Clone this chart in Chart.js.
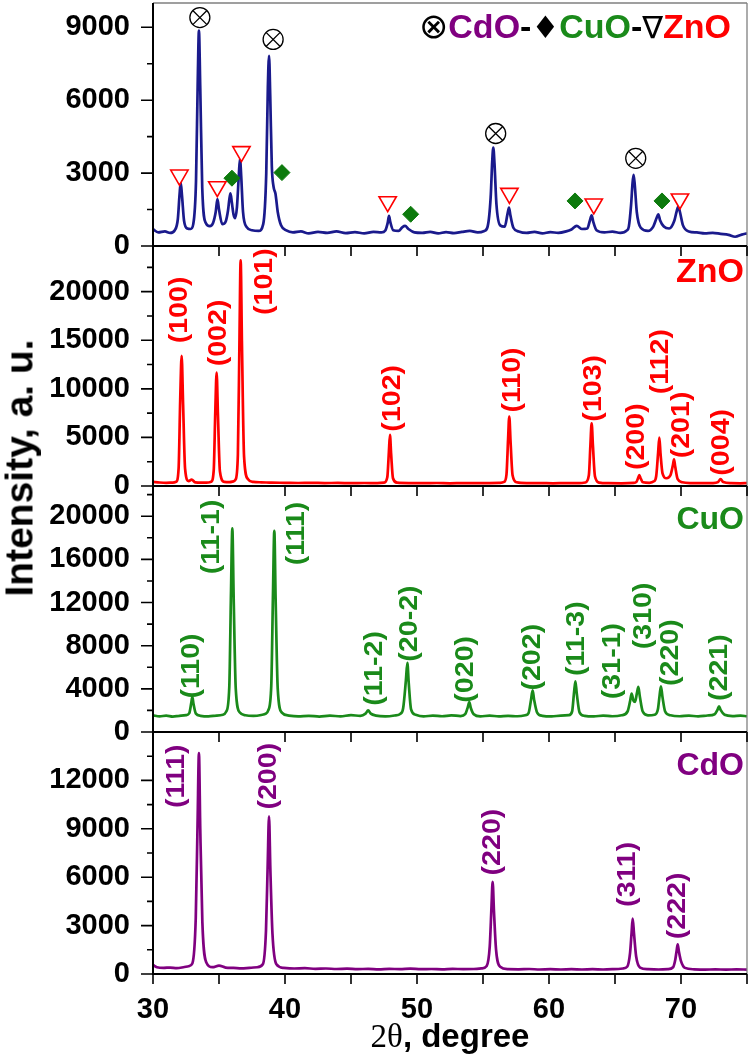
<!DOCTYPE html>
<html>
<head>
<meta charset="utf-8">
<title>XRD patterns</title>
<script src="https://cdn.jsdelivr.net/npm/chart.js@4.4.1/dist/chart.umd.min.js"></script>
<style>
  body { margin: 0; background: #fff; }
  #wrap { position: relative; width: 750px; height: 1063px; overflow: hidden; background: #fff; }
  #wrap canvas { position: absolute; left: 0; }
  #yTitle {
    position: absolute; left: 18.5px; top: 468px;
    transform: translate(-50%, -50%) rotate(-90deg);
    font: bold 39px "Liberation Sans", Arial, sans-serif;
    line-height: 1; white-space: nowrap; color: #000;
  }
</style>
</head>
<body>
<div id="wrap">
  <canvas id="mixChart" width="750" height="262" style="top:0px"></canvas>
  <canvas id="znoChart" width="750" height="268" style="top:232px"></canvas>
  <canvas id="cuoChart" width="750" height="274" style="top:472px"></canvas>
  <canvas id="cdoChart" width="750" height="345" style="top:718px"></canvas>
  <div id="yTitle">Intensity, a. u.</div>
</div>
<script>
// ---- data: [2theta, intensity] ----
const mixScan = [[30.0,690],[30.4,560],[30.9,600],[31.3,540],[31.65,650],[31.88,1100],[32.01,2100],[32.1,2610],[32.2,2050],[32.35,1050],[32.6,720],[32.85,700],[33.05,900],[33.26,2700],[33.39,6800],[33.48,8860],[33.58,6500],[33.73,2400],[34.0,950],[34.3,820],[34.55,950],[34.75,1400],[34.88,1925],[35.0,1500],[35.25,900],[35.5,1000],[35.68,1450],[35.79,1950],[35.87,2170],[35.97,1800],[36.1,1300],[36.22,1150],[36.36,1600],[36.5,2900],[36.59,3600],[36.68,2900],[36.82,1400],[37.1,780],[37.5,650],[38.0,620],[38.35,900],[38.58,3000],[38.7,6500],[38.79,7830],[38.88,6200],[39.0,3300],[39.13,2450],[39.28,2150],[39.45,1400],[39.7,850],[40.1,640],[40.6,560],[41.2,600],[41.8,520],[42.5,580],[43.2,540],[43.9,600],[44.6,530],[45.3,570],[46.0,520],[46.7,580],[47.3,560],[47.6,640],[47.78,950],[47.88,1236],[47.98,980],[48.2,650],[48.6,620],[48.9,780],[49.1,825],[49.35,700],[49.8,560],[50.4,540],[51.0,580],[51.6,520],[52.2,570],[52.8,530],[53.4,580],[54.0,620],[54.6,560],[55.1,620],[55.35,800],[55.58,2000],[55.7,3500],[55.78,4050],[55.87,3400],[56.02,1700],[56.3,850],[56.65,800],[56.85,1300],[56.97,1580],[57.08,1250],[57.3,750],[57.7,600],[58.3,540],[58.9,580],[59.5,520],[60.1,570],[60.7,540],[61.3,600],[61.7,680],[62.1,825],[62.5,700],[62.9,720],[63.1,1050],[63.23,1265],[63.35,1000],[63.6,650],[64.2,560],[64.8,590],[65.4,540],[65.9,640],[66.05,800],[66.22,1700],[66.33,2600],[66.41,2925],[66.5,2500],[66.65,1400],[66.95,750],[67.5,620],[67.9,800],[68.15,1150],[68.28,1306],[68.42,1050],[68.7,800],[69.1,720],[69.5,1050],[69.68,1450],[69.8,1623],[69.92,1400],[70.15,850],[70.6,600],[71.2,560],[71.8,520],[72.4,540],[73.0,500],[73.6,460],[74.1,380],[74.6,470],[75.0,520]];

const znoScan = [[30.0,420],[30.5,360],[31.0,330],[31.5,350],[31.75,430],[31.94,1800],[32.06,8800],[32.17,13400],[32.28,8400],[32.43,1800],[32.7,500],[32.93,650],[33.2,380],[33.7,340],[34.2,360],[34.4,430],[34.6,1600],[34.72,7700],[34.82,11680],[34.92,7300],[35.07,1500],[35.4,420],[35.8,400],[36.1,480],[36.25,650],[36.43,3200],[36.55,15000],[36.64,23230],[36.74,14500],[36.9,3000],[37.2,700],[37.6,420],[38.2,380],[39.0,340],[40.0,330],[41.0,310],[42.0,330],[43.0,300],[44.0,320],[45.0,290],[46.0,310],[47.0,300],[47.5,340],[47.75,900],[47.87,3500],[47.95,5260],[48.04,3300],[48.18,800],[48.5,340],[49.5,300],[50.5,290],[51.5,310],[52.5,280],[53.5,300],[54.5,290],[55.5,300],[56.3,320],[56.6,420],[56.78,1200],[56.9,4800],[56.99,7150],[57.09,4500],[57.24,1100],[57.55,380],[58.3,290],[59.3,300],[60.3,280],[61.3,300],[62.3,290],[62.75,360],[63.02,1100],[63.14,4300],[63.23,6460],[63.33,4100],[63.48,1000],[63.8,350],[64.5,290],[65.5,280],[66.4,320],[66.62,420],[66.76,850],[66.84,1130],[66.93,820],[67.12,380],[67.6,330],[67.95,480],[68.12,1000],[68.27,3500],[68.36,4980],[68.45,3300],[68.6,1300],[68.9,800],[69.2,1100],[69.38,2100],[69.47,2750],[69.56,2000],[69.75,700],[70.1,380],[70.8,300],[71.6,290],[72.4,300],[72.8,400],[73.0,720],[73.2,400],[73.8,290],[74.5,280],[75.0,300]];

const cuoScan = [[30.0,1550],[30.5,1450],[31.0,1520],[31.5,1430],[32.0,1500],[32.5,1560],[32.75,1750],[32.9,2700],[32.98,3250],[33.07,2600],[33.25,1700],[33.6,1500],[34.2,1450],[34.8,1520],[35.3,1600],[35.55,1900],[35.78,4200],[35.91,13000],[36.01,18870],[36.11,12500],[36.27,4000],[36.58,1800],[37.0,1550],[37.6,1500],[38.2,1580],[38.55,1700],[38.73,2000],[38.96,4300],[39.09,12800],[39.19,18650],[39.29,12300],[39.45,4000],[39.76,1800],[40.3,1520],[41.0,1450],[41.8,1500],[42.6,1430],[43.4,1520],[44.2,1450],[45.0,1560],[45.7,1500],[46.1,1700],[46.3,2000],[46.5,1700],[46.9,1520],[47.6,1450],[48.3,1530],[48.75,1700],[48.95,2200],[49.16,4800],[49.27,6400],[49.37,4600],[49.55,2100],[49.9,1600],[50.5,1450],[51.2,1520],[51.9,1460],[52.6,1540],[53.3,1480],[53.65,1650],[53.85,2300],[53.96,2780],[54.07,2250],[54.3,1650],[54.8,1450],[55.5,1520],[56.2,1440],[56.9,1500],[57.6,1460],[58.2,1550],[58.45,1750],[58.64,3000],[58.76,3870],[58.87,3000],[59.1,1800],[59.5,1500],[60.2,1450],[60.9,1520],[61.5,1560],[61.75,1900],[61.9,3700],[62.0,4700],[62.1,3600],[62.32,1800],[62.7,1500],[63.4,1450],[64.1,1520],[64.8,1460],[65.5,1550],[65.95,1900],[66.15,2900],[66.26,3560],[66.4,2900],[66.52,2800],[66.66,3600],[66.77,4175],[66.88,3300],[67.1,1900],[67.5,1550],[68.0,1600],[68.25,2100],[68.38,3400],[68.48,4240],[68.59,3300],[68.8,1900],[69.2,1550],[69.9,1460],[70.6,1520],[71.3,1450],[72.0,1530],[72.55,1650],[72.78,2100],[72.88,2380],[73.0,2050],[73.3,1600],[73.9,1480],[74.5,1520],[75.0,1460]];

const cdoScan = [[30.0,560],[30.3,420],[30.8,380],[31.3,400],[31.8,370],[32.3,420],[32.7,480],[32.98,650],[33.24,3500],[33.38,9500],[33.48,13690],[33.58,9000],[33.74,3200],[34.05,700],[34.5,420],[35.0,520],[35.5,400],[36.1,380],[36.7,350],[37.3,380],[37.9,420],[38.32,600],[38.56,2700],[38.69,6800],[38.79,9770],[38.89,6500],[39.05,2500],[39.35,600],[39.9,380],[40.7,340],[41.5,360],[42.3,320],[43.1,340],[43.9,310],[44.7,330],[45.5,300],[46.3,320],[47.1,290],[47.9,320],[48.7,300],[49.5,330],[50.3,300],[51.1,310],[51.9,290],[52.7,320],[53.5,300],[54.3,310],[54.9,350],[55.28,500],[55.51,1700],[55.64,4100],[55.73,5710],[55.83,3900],[55.99,1500],[56.3,450],[56.9,300],[57.7,290],[58.5,310],[59.3,280],[60.1,300],[60.9,280],[61.7,300],[62.5,280],[63.3,300],[64.1,280],[64.9,300],[65.6,340],[65.92,450],[66.14,1300],[66.26,2600],[66.34,3440],[66.44,2500],[66.6,1100],[66.9,400],[67.5,300],[68.3,280],[69.0,300],[69.4,420],[69.57,900],[69.67,1450],[69.75,1835],[69.84,1400],[70.0,800],[70.3,380],[71.0,290],[71.8,270],[72.6,290],[73.4,270],[74.2,290],[75.0,270]];

// phase markers on the mixture pattern
const cdoMarkX = [33.55, 39.1, 55.96, 66.57];
const cdoMarkY = [9400, 8500, 4630, 3610];
const cuoMarkX = [35.98, 39.77, 49.52, 61.97, 68.56];
const cuoMarkY = [2790, 3020, 1306, 1855, 1855];
const znoMarkX = [32.0, 34.87, 36.7, 47.78, 57.0, 63.39, 69.92];
const znoMarkY = [2920, 2440, 3885, 1824, 2167, 1730, 1935];

// Miller indices and where they sit (2theta, intensity)
const znoHkl = ['(100)', '(002)', '(101)', '(102)', '(110)', '(103)', '(200)', '(112)', '(201)', '(004)'];
const znoHklX = [32.05, 35.0, 38.48, 48.2, 57.25, 63.36, 66.64, 68.48, 70.1, 73.08];
const znoHklY = [18120, 15750, 21030, 9030, 10910, 10060, 5075, 12800, 6280, 4500];

const cuoHkl = ['(110)', '(11-1)', '(111)', '(11-2)', '(20-2)', '(020)', '(202)', '(11-3)', '(31-1)', '(310)', '(220)', '(221)'];
const cuoHklX = [32.93, 34.45, 40.89, 46.78, 49.47, 53.69, 58.81, 62.1, 64.87, 67.22, 69.24, 72.95];
const cuoHklY = [6120, 18080, 18400, 5900, 10050, 5810, 6930, 8660, 6580, 10760, 7360, 5970];

const cdoHkl = ['(111)', '(200)', '(220)', '(311)', '(222)'];
const cdoHklX = [31.8, 38.81, 55.78, 66.0, 69.75];
const cdoHklY = [12260, 12260, 8180, 6180, 4220];

// axis ticks (all tick marks, and the ones that carry a label)
const twoThetaTicks = [30, 35, 40, 45, 50, 55, 60, 65, 70, 75];
const twoThetaLabels = [30, 40, 50, 60, 70];
const mixTicks = [0, 1500, 3000, 4500, 6000, 7500, 9000];
const mixLabels = [0, 3000, 6000, 9000];
const znoTicks = [0, 2500, 5000, 7500, 10000, 12500, 15000, 17500, 20000, 22500];
const znoLabels = [0, 5000, 10000, 15000, 20000];
const cuoTicks = [0, 2000, 4000, 6000, 8000, 10000, 12000, 14000, 16000, 18000, 20000, 22000];
const cuoLabels = [0, 4000, 8000, 12000, 16000, 20000];
const cdoTicks = [0, 1500, 3000, 4500, 6000, 7500, 9000, 10500, 12000, 13500];
const cdoLabels = [0, 3000, 6000, 9000, 12000];

const legendText = ['\u2297', 'CdO', '-', '\u2666', 'CuO', '-', '\u2207', 'ZnO'];

const FONT = '"Liberation Sans", Arial, sans-serif';
const NAVY = '#1a1a8c';
const RED = '#ff0000';
const GREEN = '#1a8a1a';
const PURPLE = '#800080';

Chart.defaults.font.family = FONT;

function toPoints(scan) {
    return scan.map(p => ({ x: p[0], y: p[1] }));
}

function zipPoints(xs, ys) {
    return xs.map((v, i) => ({ x: v, y: ys[i] }));
}

// frame, ticks, miller labels and panel name
const panelDecor = {
    id: 'panelDecor',
    afterDraw(chart, args, opts) {
        const ctx = chart.ctx;
        const a = chart.chartArea;
        const x = chart.scales.x;
        const y = chart.scales.y;
        ctx.save();

        // miller indices
        if (opts.hkl) {
            ctx.fillStyle = opts.color;
            ctx.font = 'bold 26px ' + FONT;
            ctx.textAlign = 'center';
            ctx.textBaseline = 'middle';
            opts.hkl.forEach((t, i) => {
                ctx.save();
                ctx.translate(x.getPixelForValue(opts.hklX[i]), y.getPixelForValue(opts.hklY[i]));
                ctx.rotate(-Math.PI / 2);
                ctx.scale(1.1, 1);
                ctx.fillText(t, 0, 0);
                ctx.restore();
            });
        }

        // panel name
        if (opts.name) {
            ctx.fillStyle = opts.color;
            ctx.font = 'bold ' + opts.nameSize + 'px ' + FONT;
            ctx.textAlign = 'right';
            ctx.textBaseline = 'alphabetic';
            ctx.fillText(opts.name, a.right - 3, a.top + opts.nameDrop);
        }

        // thin grey frame (right, and top for the first panel)
        ctx.strokeStyle = '#808080';
        ctx.lineWidth = 1.3;
        ctx.beginPath();
        ctx.moveTo(a.right, a.top);
        ctx.lineTo(a.right, a.bottom);
        if (opts.topBorder) {
            ctx.moveTo(a.left, a.top);
            ctx.lineTo(a.right, a.top);
        }
        ctx.stroke();

        // black axes
        ctx.strokeStyle = '#000';
        ctx.lineWidth = 2;
        ctx.beginPath();
        ctx.moveTo(a.left, a.top);
        ctx.lineTo(a.left, a.bottom);
        ctx.lineTo(a.right, a.bottom);
        ctx.stroke();

        // y ticks, the labelled ones are longer
        ctx.lineWidth = 1.6;
        ctx.beginPath();
        y.ticks.forEach(t => {
            const py = y.getPixelForValue(t.value);
            const len = opts.major.includes(t.value) ? 12 : 6;
            ctx.moveTo(a.left - len, py);
            ctx.lineTo(a.left, py);
        });
        // 2theta ticks
        twoThetaTicks.forEach(v => {
            const px = x.getPixelForValue(v);
            if (opts.topTicks) {
                ctx.moveTo(px, a.top);
                ctx.lineTo(px, a.top + 10);
            }
            if (opts.bottomTicks) {
                ctx.moveTo(px, a.bottom);
                ctx.lineTo(px, a.bottom + 10);
            }
        });
        ctx.stroke();
        ctx.restore();
    }
};

// top-right phase key of the mixture panel
const phaseKey = {
    id: 'phaseKey',
    afterDraw(chart) {
        const ctx = chart.ctx;
        const colors = ['#000', PURPLE, '#000', '#000', GREEN, '#000', '#000', RED];
        const fonts = legendText.map(t => {
            if (t === '\u2297') return '35px "DejaVu Sans", sans-serif';
            if (t === '\u2666' || t === '\u2207') return '31px "DejaVu Sans", sans-serif';
            return 'bold 34px ' + FONT;
        });
        ctx.save();
        ctx.textBaseline = 'alphabetic';
        ctx.textAlign = 'left';
        const widths = legendText.map((t, i) => { ctx.font = fonts[i]; return ctx.measureText(t).width; });
        let px = 731 - widths.reduce((s, w) => s + w, 0);
        legendText.forEach((t, i) => {
            ctx.font = fonts[i];
            ctx.fillStyle = colors[i];
            ctx.fillText(t, px, 38);
            px += widths[i];
        });
        ctx.restore();
    }
};

// "2θ, degree" with a serif 2θ
const xTitle = {
    id: 'xTitle',
    afterDraw(chart) {
        const ctx = chart.ctx;
        const a = chart.chartArea;
        const partA = '2\u03b8';
        const partB = ', degree';
        const serif = '33px "Liberation Serif", "Times New Roman", serif';
        const sans = 'bold 33px ' + FONT;
        ctx.save();
        ctx.fillStyle = '#000';
        ctx.textBaseline = 'alphabetic';
        ctx.textAlign = 'left';
        ctx.font = serif;
        const wa = ctx.measureText(partA).width;
        ctx.font = sans;
        const wb = ctx.measureText(partB).width;
        const x0 = (a.left + a.right) / 2 - (wa + wb) / 2;
        ctx.font = serif;
        ctx.fillText(partA, x0, a.bottom + 73);
        ctx.font = sans;
        ctx.fillText(partB, x0 + wa, a.bottom + 73);
        ctx.restore();
    }
};

function yScale(max, tickValues, labelValues) {
    return {
        min: 0,
        max: max,
        afterBuildTicks: function(scale) {
            scale.ticks = tickValues.map(v => ({ value: v }));
        },
        afterFit: function(scale) {
            scale.width = 153;
            scale.paddingTop = 0;
            scale.paddingBottom = 0;
        },
        grid: { display: false, drawTicks: false },
        border: { display: false },
        ticks: {
            autoSkip: false,
            padding: 23,
            color: '#000',
            font: { size: 29, weight: 'bold' },
            callback: function(value) {
                return labelValues.includes(value) ? String(value) : '';
            }
        }
    };
}

function hiddenX() {
    return { type: 'linear', min: 30, max: 75, display: false };
}

function scanDataset(scan, color) {
    return {
        type: 'line',
        data: toPoints(scan),
        borderColor: color,
        borderWidth: 2.7,
        pointRadius: 0,
        cubicInterpolationMode: 'monotone',
        fill: false
    };
}

function baseOptions(padding, scales, decor) {
    return {
        responsive: false,
        animation: false,
        events: [],
        layout: { padding: padding, autoPadding: false },
        scales: scales,
        plugins: {
            legend: { display: false },
            tooltip: { enabled: false },
            panelDecor: decor
        }
    };
}

// Mixture pattern with phase markers
function initMixChart() {
    const ctx = document.getElementById('mixChart');
    const cdoPts = zipPoints(cdoMarkX, cdoMarkY);
    new Chart(ctx, {
        type: 'line',
        data: {
            datasets: [{
                type: 'scatter', data: cdoPts, pointStyle: 'circle', pointRadius: 10,
                borderColor: '#000', borderWidth: 1.3, backgroundColor: 'rgba(255,255,255,0)'
            }, {
                type: 'scatter', data: cdoPts, pointStyle: 'crossRot', pointRadius: 10,
                borderColor: '#000', borderWidth: 1.3
            }, {
                type: 'scatter', data: zipPoints(znoMarkX, znoMarkY), pointStyle: 'triangle',
                pointRotation: 180, pointRadius: 10, borderColor: RED, borderWidth: 1.6,
                backgroundColor: '#fff'
            }, {
                type: 'scatter', data: zipPoints(cuoMarkX, cuoMarkY), pointStyle: 'rectRot',
                pointRadius: 8, borderColor: '#0d7a0d', borderWidth: 1, backgroundColor: '#0d7a0d'
            },
            scanDataset(mixScan, NAVY)]
        },
        options: baseOptions({ top: 3, bottom: 16, left: 0, right: 3 },
            { x: hiddenX(), y: yScale(10000, mixTicks, mixLabels) },
            { major: mixLabels, topBorder: true, topTicks: false, bottomTicks: false }),
        plugins: [panelDecor, phaseKey]
    });
}

// ZnO reference pattern
function initZnoChart() {
    const ctx = document.getElementById('znoChart');
    new Chart(ctx, {
        type: 'line',
        data: { datasets: [scanDataset(znoScan, RED)] },
        options: baseOptions({ top: 14, bottom: 14, left: 0, right: 3 },
            { x: hiddenX(), y: yScale(24700, znoTicks, znoLabels) },
            { major: znoLabels, topTicks: true, color: RED, hkl: znoHkl, hklX: znoHklX, hklY: znoHklY,
              name: 'ZnO', nameSize: 34, nameDrop: 36 }),
        plugins: [panelDecor]
    });
}

// CuO reference pattern
function initCuoChart() {
    const ctx = document.getElementById('cuoChart');
    new Chart(ctx, {
        type: 'line',
        data: { datasets: [scanDataset(cuoScan, GREEN)] },
        options: baseOptions({ top: 14, bottom: 14, left: 0, right: 3 },
            { x: hiddenX(), y: yScale(22800, cuoTicks, cuoLabels) },
            { major: cuoLabels, topTicks: true, color: GREEN, hkl: cuoHkl, hklX: cuoHklX, hklY: cuoHklY,
              name: 'CuO', nameSize: 32, nameDrop: 43 }),
        plugins: [panelDecor]
    });
}

// CdO reference pattern, carries the 2theta axis
function initCdoChart() {
    const ctx = document.getElementById('cdoChart');
    new Chart(ctx, {
        type: 'line',
        data: { datasets: [scanDataset(cdoScan, PURPLE)] },
        options: baseOptions({ top: 14, bottom: 0, left: 0, right: 3 }, {
            x: {
                type: 'linear', min: 30, max: 75,
                afterBuildTicks: function(scale) {
                    scale.ticks = twoThetaLabels.map(v => ({ value: v }));
                },
                afterFit: function(scale) {
                    scale.height = 89;
                    scale.paddingLeft = 0;
                    scale.paddingRight = 0;
                },
                grid: { display: false, drawTicks: false },
                border: { display: false },
                ticks: {
                    autoSkip: false, maxRotation: 0, padding: 19,
                    color: '#000', font: { size: 29, weight: 'bold' }
                }
            },
            y: yScale(15000, cdoTicks, cdoLabels)
        }, { major: cdoLabels, topTicks: true, bottomTicks: true, color: PURPLE, hkl: cdoHkl,
             hklX: cdoHklX, hklY: cdoHklY, name: 'CdO', nameSize: 32, nameDrop: 43 }),
        plugins: [panelDecor, xTitle]
    });
}

initMixChart();
initZnoChart();
initCuoChart();
initCdoChart();
</script>
</body>
</html>
